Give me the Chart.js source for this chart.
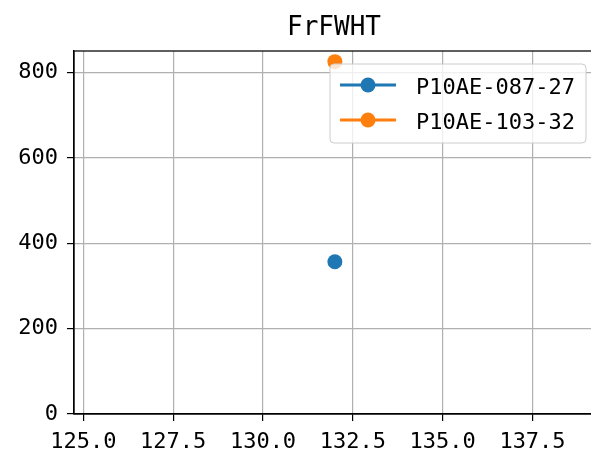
<!DOCTYPE html>
<html><head><meta charset="utf-8">
<script src="https://cdn.jsdelivr.net/npm/chart.js@4.4.0/dist/chart.umd.min.js"></script>
<style>html,body{margin:0;padding:0;background:#fff;overflow:hidden}#wrap{width:591px;height:456px;overflow:hidden}</style>
</head><body><div id="wrap"><canvas id="c" width="600" height="456"></canvas></div>
<script>
const titleText = "FrFWHT";
const seriesNames = ["P10AE-087-27", "P10AE-103-32"];
const seriesColors = ["#1f77b4", "#ff7f0e"];
const seriesX = [[132.0], [132.0]];
const seriesY = [[357], [826]];
const xTicks = [125.0, 127.5, 130.0, 132.5, 135.0, 137.5];
const yTicks = [0, 200, 400, 600, 800];
const xRange = [124.74, 139.17];
const yRange = [0, 851];

const FONT = "'DejaVu Sans Mono', 'Liberation Mono', monospace";

const extras = {
  id: 'extras',
  afterDraw(chart) {
    const ctx = chart.ctx, a = chart.chartArea;
    ctx.save();
    // spines
    ctx.strokeStyle = '#000'; ctx.lineWidth = 1.25;
    ctx.strokeRect(a.left, a.top, a.right - a.left, a.bottom - a.top);
    // title
    ctx.fillStyle = '#000';
    ctx.font = "26px " + FONT;
    ctx.textAlign = 'center'; ctx.textBaseline = 'alphabetic';
    ctx.fillText(titleText, 334, 35);
    // legend
    const bx = 330, by = 64, bw = 256, bh = 79, r = 4;
    ctx.beginPath();
    ctx.moveTo(bx + r, by); ctx.lineTo(bx + bw - r, by); ctx.quadraticCurveTo(bx + bw, by, bx + bw, by + r);
    ctx.lineTo(bx + bw, by + bh - r); ctx.quadraticCurveTo(bx + bw, by + bh, bx + bw - r, by + bh);
    ctx.lineTo(bx + r, by + bh); ctx.quadraticCurveTo(bx, by + bh, bx, by + bh - r);
    ctx.lineTo(bx, by + r); ctx.quadraticCurveTo(bx, by, bx + r, by);
    ctx.closePath();
    ctx.fillStyle = 'rgba(255,255,255,0.8)'; ctx.fill();
    ctx.strokeStyle = '#cccccc'; ctx.lineWidth = 1; ctx.stroke();
    ctx.font = "22px " + FONT;
    ctx.textAlign = 'left'; ctx.textBaseline = 'alphabetic';
    seriesNames.forEach((n, i) => {
      const y = 85 + i * 35;
      ctx.strokeStyle = seriesColors[i]; ctx.lineWidth = 3;
      ctx.beginPath(); ctx.moveTo(340, y); ctx.lineTo(396, y); ctx.stroke();
      ctx.fillStyle = seriesColors[i];
      ctx.beginPath(); ctx.arc(368, y, 7.5, 0, Math.PI * 2); ctx.fill();
      ctx.fillStyle = '#000';
      ctx.fillText(n, 416, y + 9);
    });
    ctx.restore();
  }
};

new Chart(document.getElementById('c'), {
  type: 'scatter',
  data: {
    datasets: seriesNames.map((n, i) => ({
      label: n,
      data: seriesX[i].map((x, j) => ({ x: x, y: seriesY[i][j] })),
      backgroundColor: seriesColors[i],
      borderColor: seriesColors[i],
      pointRadius: 7.5,
      pointHoverRadius: 7.5,
      borderWidth: 0,
      showLine: true
    }))
  },
  options: {
    responsive: false,
    animation: false,
    devicePixelRatio: 1,
    layout: { padding: { top: 51, right: 4, left: 0, bottom: 0 } },
    plugins: { legend: { display: false }, title: { display: false }, tooltip: { enabled: false } },
    scales: {
      x: {
        type: 'linear', min: xRange[0], max: xRange[1],
        afterBuildTicks: s => { s.ticks = xTicks.map(v => ({ value: v })); },
        afterFit: s => { s.height = 42; },
        ticks: { callback: v => Number(v).toFixed(1), color: '#000', font: { family: FONT, size: 22 }, padding: 8, maxRotation: 0, autoSkip: false },
        grid: { color: '#b0b0b0', lineWidth: 1.2, tickColor: '#000', tickLength: 7 },
        border: { display: true, color: '#000', width: 1.25 }
      },
      y: {
        type: 'linear', min: yRange[0], max: yRange[1],
        afterBuildTicks: s => { s.ticks = yTicks.map(v => ({ value: v })); },
        afterFit: s => { s.width = 74; },
        ticks: { color: '#000', font: { family: FONT, size: 22 }, padding: 9, autoSkip: false },
        grid: { color: '#b0b0b0', lineWidth: 1.2, tickColor: '#000', tickLength: 7 },
        border: { display: true, color: '#000', width: 1.25 }
      }
    }
  },
  plugins: [extras]
});
</script></body></html>
